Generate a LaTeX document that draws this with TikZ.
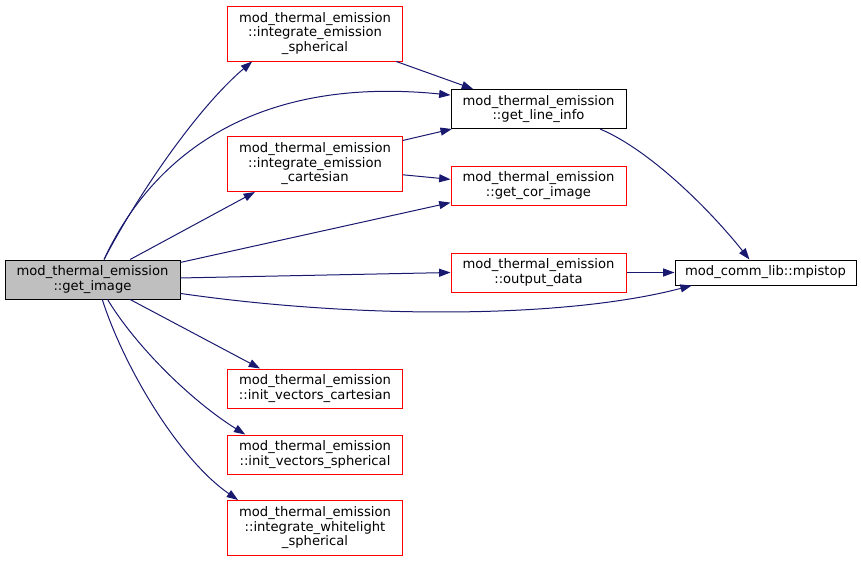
\documentclass[tikz,border=0pt]{standalone}
\usepackage{fontspec}
\setmainfont{DejaVu Sans}
\usetikzlibrary{arrows.meta}

\definecolor{edgeblue}{HTML}{191970}
\definecolor{nodegray}{HTML}{BFBFBF}

\tikzset{
    fn/.style={draw=red, line width=0.75pt, align=center, inner sep=0pt,
        minimum width=131.25pt, minimum height=29.25pt,
        font=\fontsize{9.85pt}{10.9pt}\selectfont},
    fnthree/.style={fn, minimum height=41.25pt},
    fnblack/.style={fn, draw=black},
    fnroot/.style={fn, draw=black, fill=nodegray},
    call/.style={edgeblue, line width=0.75pt, -{Triangle[length=8.5pt,width=6pt]}}
}

\begin{document}
\begin{tikzpicture}[x=0.75pt, y=-0.75pt]
    % Fix the page to the reference size
    \useasboundingbox (0,0) rectangle (861,561);

    % The caller
    \node[fnroot] (getimage) at (92.5,279.5) {mod\_thermal\_emission\\::get\_image};

    % Functions called from get_image
    \node[fnthree] (intsph) at (315,33.5) {mod\_thermal\_emission\\::integrate\_emission\\\_spherical};
    \node[fnthree] (intcart) at (315,164) {mod\_thermal\_emission\\::integrate\_emission\\\_cartesian};
    \node[fn] (initcart) at (315,388.5) {mod\_thermal\_emission\\::init\_vectors\_cartesian};
    \node[fn] (initsph) at (315,454.5) {mod\_thermal\_emission\\::init\_vectors\_spherical};
    \node[fnthree] (intwhite) at (315,528) {mod\_thermal\_emission\\::integrate\_whitelight\\\_spherical};

    % Second column
    \node[fnblack] (lineinfo) at (538.5,109) {mod\_thermal\_emission\\::get\_line\_info};
    \node[fn] (corimage) at (538.5,185.5) {mod\_thermal\_emission\\::get\_cor\_image};
    \node[fn] (outdata) at (538.5,272.5) {mod\_thermal\_emission\\::output\_data};

    % The library call
    \node[fnblack, minimum width=135.75pt, minimum height=18.75pt] (mpistop) at (765.5,272.5) {mod\_comm\_lib::mpistop};

    % Calls from get_image
    \draw[call] (getimage.60) .. controls (135,200) and (195,110) .. (intsph.204);
    \draw[call] (getimage.60) .. controls (150,160) and (250,75) .. (lineinfo.171);
    \draw[call] (getimage.28) -- (intcart.205);
    \draw[call] (getimage.11) -- (corimage.191);
    \draw[call] (getimage.1) -- (outdata.west);
    \draw[call] (getimage.-9) .. controls (350,318) and (560,320) .. (mpistop.190);
    \draw[call] (getimage.-28) -- (initcart.160);
    \draw[call] (getimage.-53) .. controls (135,345) and (190,400) .. (initsph.164);
    \draw[call] (getimage.-64) .. controls (125,370) and (180,460) .. (intwhite.160);

    % Calls between the others
    \draw[call] (intsph.-19) -- (lineinfo.163);
    \draw[call] (intcart.15) -- (lineinfo.-167);
    \draw[call] (intcart.-7) -- (corimage.176);
    \draw[call] (lineinfo.-18) .. controls (650,150) and (710,210) .. (mpistop.141);
    \draw[call] (outdata.east) -- (mpistop.west);
\end{tikzpicture}
\end{document}
